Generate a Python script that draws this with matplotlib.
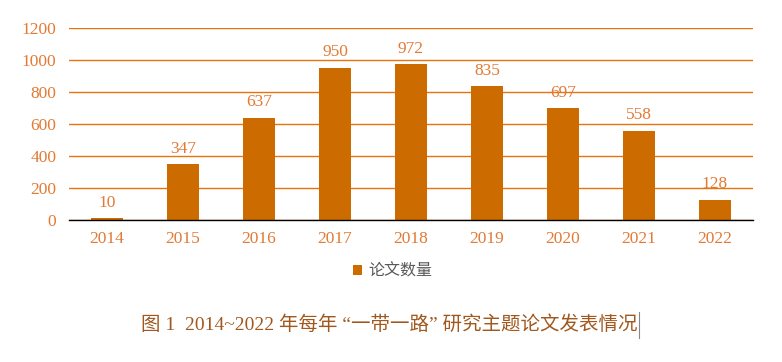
import matplotlib.pyplot as plt
from matplotlib.lines import Line2D

# data
years = ['2014', '2015', '2016', '2017', '2018', '2019', '2020', '2021', '2022']
papers = [10, 347, 637, 950, 972, 835, 697, 558, 128]
y_ticks = [0, 200, 400, 600, 800, 1000, 1200]

bar_color = '#CC6C00'
grid_color = '#E8720C'
tick_color = '#E27A35'
caption_color = '#A0581E'
num_font = ['Liberation Serif', 'Noto Sans CJK SC']

fig = plt.figure(figsize=(7.82, 3.62), dpi=100)
ax = fig.add_axes([69 / 782, 1 - 220 / 362, 684 / 782, 192 / 362])

x = range(len(years))
bars = ax.bar(x, papers, width=0.41, color=bar_color, label='论文数量', zorder=3)

ax.set_ylim(0, 1200)
ax.set_xlim(-0.5, len(years) - 0.5)
ax.set_yticks(y_ticks)
ax.set_xticks(list(x))
ax.set_xticklabels(years)
ax.yaxis.grid(True, color=grid_color, linewidth=1.0, zorder=0)
ax.set_axisbelow(True)

for side in ['top', 'right', 'left']:
    ax.spines[side].set_visible(False)
ax.spines['bottom'].set_color('black')
ax.spines['bottom'].set_linewidth(1.0)
ax.spines['bottom'].set_zorder(4)

ax.tick_params(axis='both', length=0, colors=tick_color, labelsize=12.5)
ax.tick_params(axis='x', pad=8)
ax.tick_params(axis='y', pad=9)
for lab in ax.get_xticklabels() + ax.get_yticklabels():
    lab.set_family(num_font)

# value labels above bars
for rect, v in zip(bars, papers):
    ax.annotate(str(v), (rect.get_x() + rect.get_width() / 2, v),
                xytext=(0, 8.5), textcoords='offset points',
                ha='center', va='baseline', color=tick_color,
                fontsize=12.5, family=num_font)

leg = fig.legend(loc='center', bbox_to_anchor=(393 / 782, 1 - 271 / 362),
                 frameon=False, handlelength=0.55, handleheight=0.55,
                 handletextpad=0.4,
                 prop={'family': ['Noto Sans CJK SC'], 'size': 11.5})
for t in leg.get_texts():
    t.set_color('#595959')

fig.text(389 / 782, 1 - 325 / 362,
         '图 1  2014~2022 年每年 “一带一路” 研究主题论文发表情况',
         ha='center', va='center', color=caption_color, fontsize=14,
         family=num_font)

# text cursor mark after the caption
fig.add_artist(Line2D([639 / 782, 639 / 782], [1 - 338 / 362, 1 - 312 / 362],
                      color='#888888', linewidth=0.8))

fig.savefig('out.png', dpi=100)
